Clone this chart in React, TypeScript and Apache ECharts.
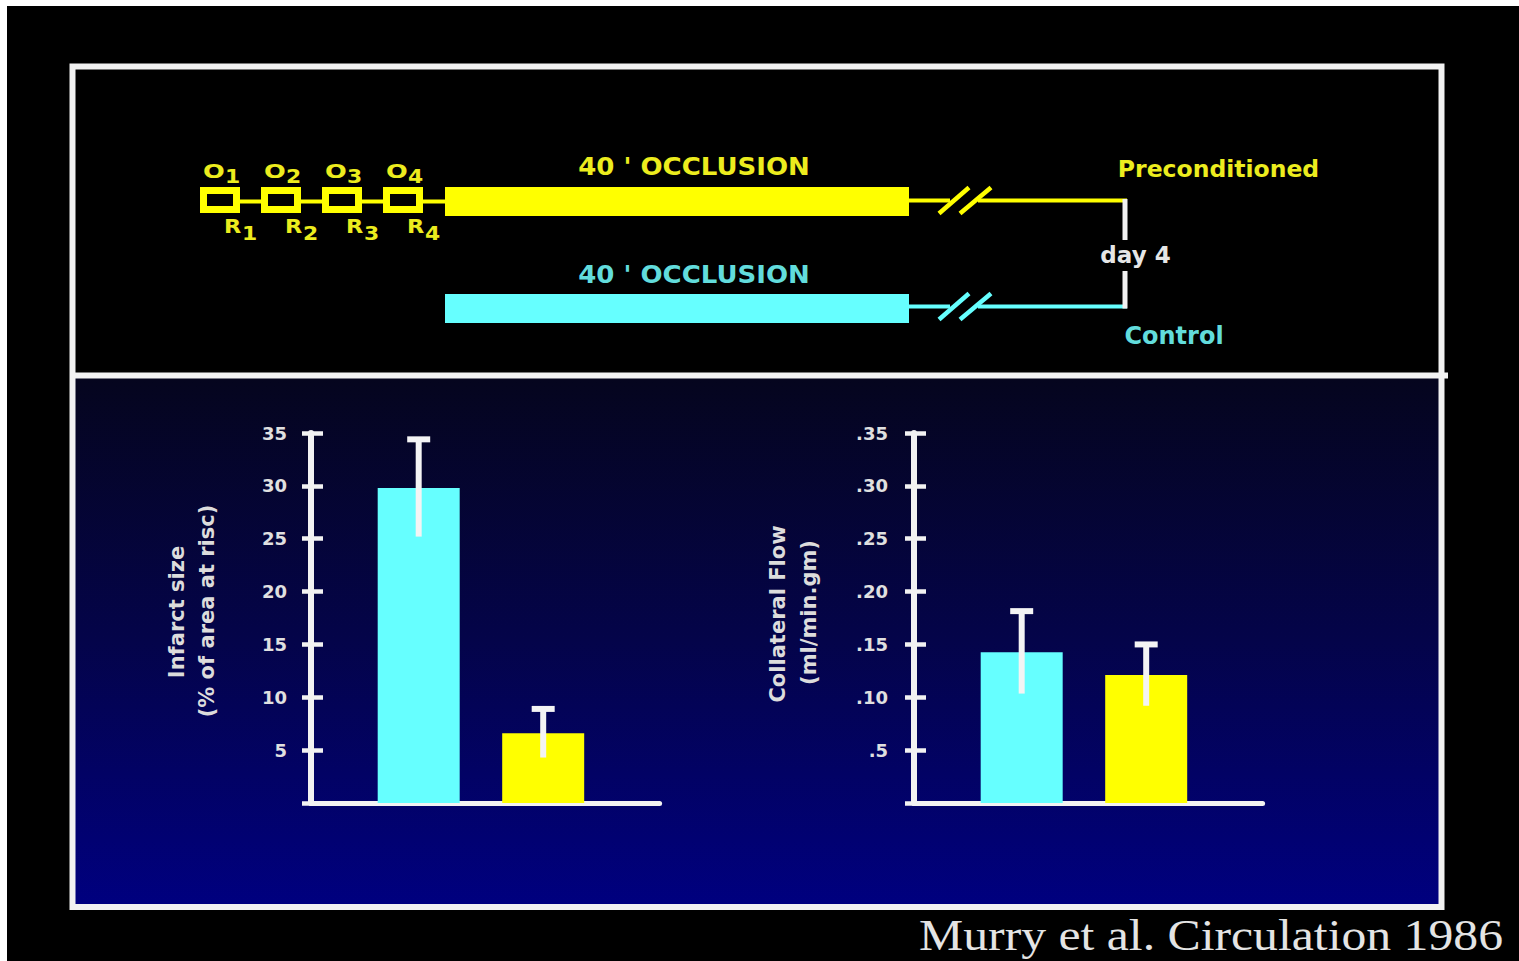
import React, { useEffect, useRef } from "react";
import * as echarts from "echarts";

// ---------- data ----------
const groups = ["Control", "Preconditioned"];
const infarctSize = [29.8, 6.6];
const infarctErr = [4.6, 2.3];
const collateralFlow = [0.1425, 0.121];
const collateralErr = [0.039, 0.029];
const infarctTickLabels = ["", "5", "10", "15", "20", "25", "30", "35"];
const flowTickLabels = ["", ".5", ".10", ".15", ".20", ".25", ".30", ".35"];
const groupColors = ["#66ffff", "#ffff00"];
const cycleLabels = ["1", "2", "3", "4"];

// ---------- styles ----------
const FONT = '"DejaVu Sans", Arial, sans-serif';
const SERIF = '"Liberation Serif", "Times New Roman", serif';
const WHITE = "#f2f2f2";
const YEL = "#ffff00";
const CYAN = "#66ffff";
const YEL_T = "#ecec1e";
const CYAN_T = "#62dcdc";
const X_MIN = -0.865;
const X_MAX = 1.935;

function txt(text: string, x: number, y: number, o: any = {}) {
  return {
    type: "text",
    x,
    y,
    scaleX: o.scaleX ?? 1,
    rotation: o.rotation ?? 0,
    z: 50,
    style: {
      text,
      fill: o.color ?? WHITE,
      font: `${o.weight ?? "bold"} ${o.size ?? 20}px ${o.family ?? FONT}`,
      textAlign: o.align ?? "center",
      textVerticalAlign: "middle",
    },
  };
}

function buildGraphic() {
  const g: any[] = [];
  g.push({ type: "rect", z: -30, shape: { x: 7, y: 6, width: 1512, height: 955 }, style: { fill: "#000000" } });
  g.push({
    type: "rect",
    z: -29,
    shape: { x: 75, y: 378, width: 1364, height: 527 },
    style: {
      fill: {
        type: "linear",
        x: 0,
        y: 0,
        x2: 0,
        y2: 1,
        colorStops: [
          { offset: 0, color: "#05051e" },
          { offset: 0.5, color: "#04044a" },
          { offset: 1, color: "#00007f" },
        ],
      },
    },
  });
  g.push({ type: "rect", z: -28, shape: { x: 72.5, y: 66.5, width: 1369, height: 840.5 }, style: { fill: "none", stroke: WHITE, lineWidth: 6 } });
  g.push({ type: "line", z: -28, shape: { x1: 72.5, y1: 375.5, x2: 1448, y2: 375.5 }, style: { stroke: WHITE, lineWidth: 6 } });

  // brief occlusion / reperfusion cycles
  cycleLabels.forEach((c, i) => {
    const bx = 200 + i * 61;
    const nextX = i < cycleLabels.length - 1 ? 200 + (i + 1) * 61 : 445;
    g.push({ type: "rect", z: 20, shape: { x: bx + 3.5, y: 190.5, width: 33, height: 19 }, style: { fill: "none", stroke: YEL, lineWidth: 7 } });
    g.push({ type: "line", z: 20, shape: { x1: bx + 40, y1: 201.5, x2: nextX, y2: 201.5 }, style: { stroke: YEL, lineWidth: 4 } });
    g.push(txt("O", bx + 3, 171, { align: "left", size: 20, scaleX: 1.28, color: YEL_T }));
    g.push(txt(c, bx + 25, 177, { align: "left", size: 19, scaleX: 1.15, color: YEL_T }));
    g.push(txt("R", bx + 24, 226, { align: "left", size: 20, scaleX: 1.12, color: YEL_T }));
    g.push(txt(c, bx + 42, 234, { align: "left", size: 19, scaleX: 1.15, color: YEL_T }));
  });

  // 40' occlusion bars
  g.push({ type: "rect", z: 20, shape: { x: 445, y: 187, width: 464, height: 29 }, style: { fill: YEL } });
  g.push({ type: "rect", z: 20, shape: { x: 445, y: 294, width: 464, height: 29 }, style: { fill: CYAN } });
  g.push(txt("40 ' OCCLUSION", 694, 166, { size: 25, scaleX: 1.04, color: YEL_T }));
  g.push(txt("40 ' OCCLUSION", 694, 274, { size: 25, scaleX: 1.04, color: CYAN_T }));

  // follow-up lines with breaks
  const lineSet = (y: number, col: string) => {
    g.push({ type: "line", z: 20, shape: { x1: 909, y1: y, x2: 950, y2: y }, style: { stroke: col, lineWidth: 4 } });
    g.push({ type: "line", z: 20, shape: { x1: 978, y1: y, x2: 1127, y2: y }, style: { stroke: col, lineWidth: 4 } });
    g.push({ type: "line", z: 20, shape: { x1: 939, y1: y + 13, x2: 969, y2: y - 13 }, style: { stroke: col, lineWidth: 4.5 } });
    g.push({ type: "line", z: 20, shape: { x1: 960, y1: y + 13, x2: 991, y2: y - 13 }, style: { stroke: col, lineWidth: 4.5 } });
  };
  lineSet(200.5, YEL);
  lineSet(306.5, CYAN);
  g.push({ type: "line", z: 20, shape: { x1: 1125, y1: 199, x2: 1125, y2: 240 }, style: { stroke: WHITE, lineWidth: 5 } });
  g.push({ type: "line", z: 20, shape: { x1: 1125, y1: 271, x2: 1125, y2: 308.5 }, style: { stroke: WHITE, lineWidth: 5 } });
  g.push(txt("day 4", 1135.5, 255, { size: 23, color: "#e6e6e6" }));
  g.push(txt("Preconditioned", 1218.5, 168.5, { size: 23.5, color: YEL_T }));
  g.push(txt("Control", 1174, 335.5, { size: 24, color: CYAN_T }));

  // axis titles
  g.push(txt("Infarct size", 177, 612, { size: 21, rotation: Math.PI / 2, color: "#dcdcdc" }));
  g.push(txt("(% of area at risc)", 207, 611, { size: 21, rotation: Math.PI / 2, color: "#dcdcdc" }));
  g.push(txt("Collateral Flow", 778, 614, { size: 21, rotation: Math.PI / 2, color: "#dcdcdc" }));
  g.push(txt("(ml/min.gm)", 809, 612.5, { size: 21, rotation: Math.PI / 2, color: "#dcdcdc" }));

  // citation
  g.push(txt("Murry et al. Circulation 1986", 1503, 935, { size: 44, weight: "normal", family: SERIF, align: "right", scaleX: 1.13, color: "#e4e4e4" }));
  return g;
}

function yAxesFor(gridIndex: number, max: number, interval: number, labels: string[], margin: number) {
  return [
    {
      type: "value",
      gridIndex,
      position: "left",
      min: 0,
      max,
      interval,
      axisLine: { show: true, onZero: false, lineStyle: { color: WHITE, width: 6 } },
      axisTick: { show: true, inside: true, length: 12, lineStyle: { color: WHITE, width: 4.5 } },
      axisLabel: {
        show: true,
        margin,
        color: "#e0e0e0",
        fontFamily: FONT,
        fontWeight: "bold",
        fontSize: 18,
        formatter: (v: number) => labels[Math.round(v / interval)] ?? "",
      },
      splitLine: { show: false },
    },
    {
      type: "value",
      gridIndex,
      position: "left",
      min: 0,
      max,
      interval,
      axisLine: { show: true, onZero: false, lineStyle: { color: WHITE, width: 0, opacity: 0 } },
      axisTick: { show: true, inside: false, length: 9, lineStyle: { color: WHITE, width: 4.5 } },
      axisLabel: { show: false },
      splitLine: { show: false },
    },
  ];
}

function xAxisFor(gridIndex: number) {
  return {
    type: "value",
    gridIndex,
    min: X_MIN,
    max: X_MAX,
    axisLine: { show: true, onZero: false, lineStyle: { color: WHITE, width: 5 } },
    axisTick: { show: false },
    axisLabel: { show: false },
    splitLine: { show: false },
  };
}

function errorBar(params: any, api: any) {
  const x = api.value(0);
  const v = api.value(1);
  const e = api.value(2);
  const top = api.coord([x, v + e]);
  const low = api.coord([x, v - e]);
  return {
    type: "group",
    children: [
      { type: "line", shape: { x1: top[0], y1: top[1], x2: low[0], y2: low[1] }, style: { stroke: "#f4f4f4", lineWidth: 6 } },
      { type: "line", shape: { x1: top[0] - 11.5, y1: top[1], x2: top[0] + 11.5, y2: top[1] }, style: { stroke: "#f4f4f4", lineWidth: 6 } },
    ],
  };
}

function barSeries(axisIdx: number, yIdx: number, values: number[], errs: number[]) {
  return [
    {
      type: "bar",
      xAxisIndex: axisIdx,
      yAxisIndex: yIdx,
      barWidth: 82,
      z: 3,
      data: groups.map((g, i) => ({ name: g, value: [i, values[i]], itemStyle: { color: groupColors[i] } })),
    },
    {
      type: "custom",
      xAxisIndex: axisIdx,
      yAxisIndex: yIdx,
      z: 10,
      encode: { x: 0, y: 1 },
      data: groups.map((g, i) => [i, values[i], errs[i]]),
      renderItem: errorBar,
    },
  ];
}

function buildOption() {
  const gridW = (X_MAX - X_MIN) * 124.5;
  return {
    animation: false,
    backgroundColor: "#ffffff",
    grid: [
      { left: 311, top: 433, width: gridW, height: 370, outerBoundsMode: "none" },
      { left: 914, top: 433, width: gridW, height: 370, outerBoundsMode: "none" },
    ],
    xAxis: [xAxisFor(0), xAxisFor(1)],
    yAxis: [
      ...yAxesFor(0, 35, 5, infarctTickLabels, 24),
      ...yAxesFor(1, 0.35, 0.05, flowTickLabels, 26),
    ],
    series: [...barSeries(0, 0, infarctSize, infarctErr), ...barSeries(1, 2, collateralFlow, collateralErr)],
    graphic: buildGraphic(),
  };
}

export default function App() {
  const ref = useRef<HTMLDivElement>(null);
  useEffect(() => {
    if (!ref.current) return;
    const chart = echarts.init(ref.current, null, { renderer: "svg" });
    chart.setOption(buildOption() as any);
    return () => chart.dispose();
  }, []);
  return <div ref={ref} style={{ position: "absolute", left: 0, top: 0, width: 1519, height: 961 }} />;
}
